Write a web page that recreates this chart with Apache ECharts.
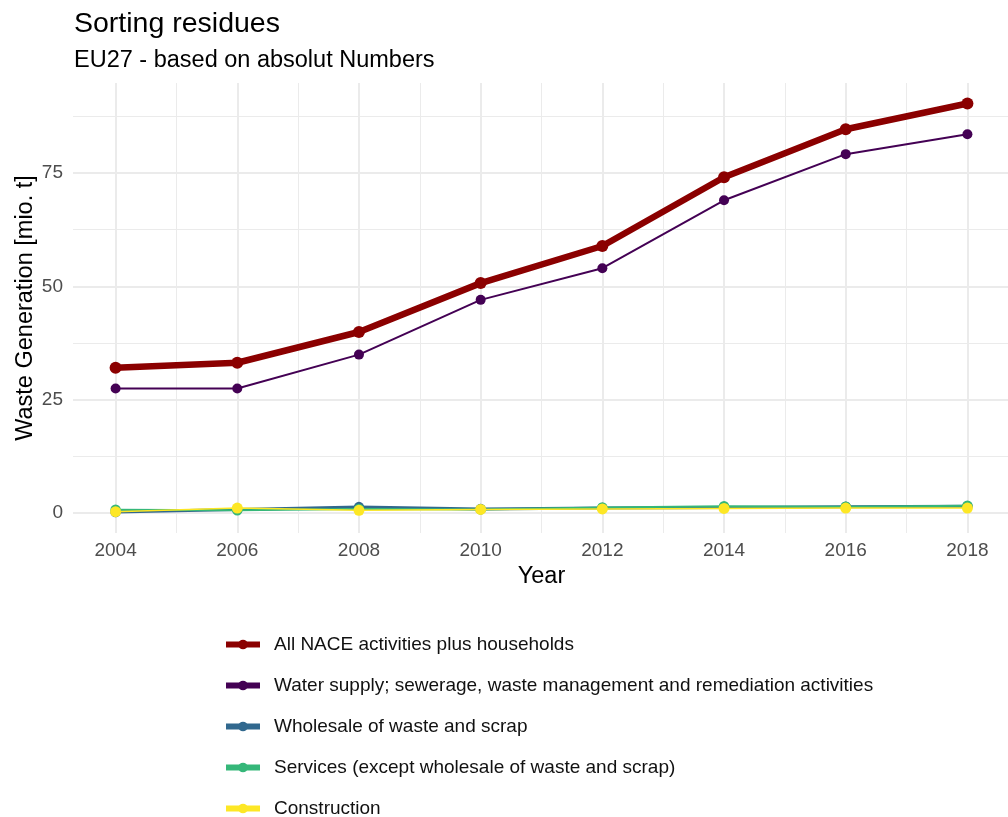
<!DOCTYPE html>
<html>
<head>
<meta charset="utf-8">
<title>Sorting residues</title>
<script src="https://cdn.jsdelivr.net/npm/echarts@6/dist/echarts.min.js"></script>
<style>
  html, body { margin: 0; padding: 0; background: #ffffff; }
  #chart { width: 1008px; height: 817px; }
</style>
</head>
<body>
<div id="chart"></div>
<script>
// Years on the x axis
const years = [2004, 2006, 2008, 2010, 2012, 2014, 2016, 2018];

// Waste generation, million tonnes
const allNace = [32.0, 33.1, 39.9, 50.7, 58.9, 74.1, 84.7, 90.4];
const waterSupply = [27.4, 27.4, 34.9, 47.0, 54.0, 69.0, 79.2, 83.6];
const wholesale = [0.1, 0.7, 1.2, 0.8, 1.0, 1.1, 1.3, 1.4];
const services = [0.6, 0.5, 0.8, 0.7, 1.1, 1.4, 1.3, 1.5];
const construction = [0.2, 1.0, 0.5, 0.7, 0.8, 0.9, 1.0, 1.0];

// Series names
const seriesNames = [
  'All NACE activities plus households',
  'Water supply; sewerage, waste management and remediation activities',
  'Wholesale of waste and scrap',
  'Services (except wholesale of waste and scrap)',
  'Construction'
];

// Axis breaks
const xMajor = [2004, 2006, 2008, 2010, 2012, 2014, 2016, 2018];
const xMinor = [2005, 2007, 2009, 2011, 2013, 2015, 2017];
const yMajor = [0, 25, 50, 75];
const yMinor = [12.5, 37.5, 62.5, 87.5];

const FONT = 'Liberation Sans';
const colors = ['#8B0000', '#440154', '#31688E', '#35B779', '#FDE725'];

// 5% padding around the data range on both axes
const allValues = [].concat(allNace, waterSupply, wholesale, services, construction);
const vMin = Math.min(0, Math.min.apply(null, allValues));
const vMax = Math.max.apply(null, allValues);
const yPad = (vMax - vMin) * 0.05;
const xPad = (years[years.length - 1] - years[0]) * 0.05;
const xLo = years[0] - xPad, xHi = years[years.length - 1] + xPad;
const yLo = vMin - yPad, yHi = vMax + yPad;

const pairs = arr => arr.map((v, i) => [years[i], v]);

const seriesValues = [allNace, waterSupply, wholesale, services, construction];
const lineWidths = [6.5, 2, 3, 2, 1.5];
const symbolSizes = [12, 10, 10.5, 10.5, 11];

// Legend rows are 41px apart; the last row gets its own block so the
// column does not wrap at the bottom edge of the canvas
const LEGEND_TOP = 635;
const ROW_STEP = 41;
const legendBase = {
  orient: 'vertical',
  left: 223,
  padding: 0,
  itemWidth: 34,
  itemHeight: 12,
  itemGap: 22,
  lineStyle: { width: 6 },
  textStyle: { fontFamily: FONT, fontSize: 19, color: '#111111', padding: [0, 0, 0, 9] }
};

const chart = echarts.init(document.getElementById('chart'), null, { renderer: 'canvas' });

chart.setOption({
  animation: false,
  backgroundColor: '#ffffff',
  textStyle: { fontFamily: FONT },
  title: {
    text: 'Sorting residues',
    subtext: 'EU27 - based on absolut Numbers',
    left: 69,
    top: 5,
    itemGap: 10,
    textStyle: { fontFamily: FONT, fontSize: 28.5, fontWeight: 'normal', color: '#000000' },
    subtextStyle: { fontFamily: FONT, fontSize: 23.5, color: '#000000' }
  },
  grid: { left: 73, top: 83, width: 937, height: 450, containLabel: false, outerBoundsMode: 'none' },
  legend: [
    Object.assign({}, legendBase, { top: LEGEND_TOP, data: seriesNames.slice(0, 4) }),
    Object.assign({}, legendBase, { top: LEGEND_TOP + 4 * ROW_STEP, data: seriesNames.slice(4) })
  ],
  xAxis: [
    {
      type: 'value', min: xLo, max: xHi,
      name: 'Year', nameLocation: 'middle', nameGap: 32,
      nameTextStyle: { fontFamily: FONT, fontSize: 23.5, color: '#000000' },
      axisLine: { show: false },
      axisTick: { show: false, customValues: xMajor },
      axisLabel: { customValues: xMajor, margin: 8, fontFamily: FONT, fontSize: 19, color: '#4d4d4d',
                   formatter: v => String(v) },
      splitLine: { show: true, lineStyle: { color: '#ebebeb', width: 2 } }
    },
    {
      type: 'value', min: xLo, max: xHi, position: 'bottom',
      axisLine: { show: false },
      axisTick: { show: false, customValues: xMinor },
      axisLabel: { show: false, customValues: xMinor },
      splitLine: { show: true, lineStyle: { color: '#ebebeb', width: 1 } }
    }
  ],
  yAxis: [
    {
      type: 'value', min: yLo, max: yHi,
      name: 'Waste Generation [mio. t]', nameLocation: 'middle', nameGap: 35,
      nameMoveOverlap: false,
      nameTextStyle: { fontFamily: FONT, fontSize: 23.5, color: '#000000' },
      axisLine: { show: false },
      axisTick: { show: false, customValues: yMajor },
      axisLabel: { customValues: yMajor, margin: 10, fontFamily: FONT, fontSize: 19, color: '#4d4d4d',
                   formatter: v => String(v) },
      splitLine: { show: true, lineStyle: { color: '#ebebeb', width: 2 } }
    },
    {
      type: 'value', min: yLo, max: yHi, position: 'left',
      axisLine: { show: false },
      axisTick: { show: false, customValues: yMinor },
      axisLabel: { show: false, customValues: yMinor },
      splitLine: { show: true, lineStyle: { color: '#ebebeb', width: 1 } }
    }
  ],
  series: seriesNames.map((name, i) => ({
    name: name,
    type: 'line',
    xAxisIndex: 0,
    yAxisIndex: 0,
    data: pairs(seriesValues[i]),
    symbol: 'circle',
    symbolSize: symbolSizes[i],
    showSymbol: true,
    color: colors[i],
    lineStyle: { color: colors[i], width: lineWidths[i] },
    itemStyle: { color: colors[i] },
    emphasis: { disabled: true },
    z: 2 + i
  }))
});
</script>
</body>
</html>
